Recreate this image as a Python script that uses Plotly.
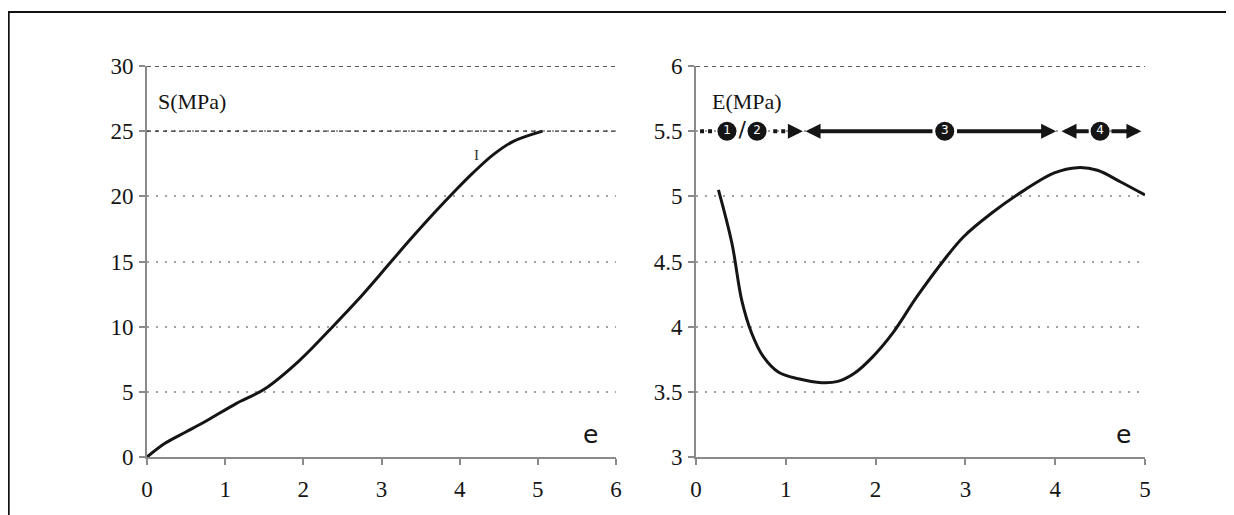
import plotly.graph_objects as go

# ---- data ----
strain_s = [0.0, 0.23, 0.49, 0.74, 1.14, 1.5, 1.95, 2.36, 2.69, 3.01, 3.37,
            3.67, 3.97, 4.17, 4.43, 4.68, 5.06]
stress_s = [0.0, 1.05, 1.9, 2.7, 4.1, 5.2, 7.4, 9.9, 12.0, 14.2, 16.7,
            18.7, 20.6, 21.8, 23.2, 24.2, 25.0]

strain_e = [0.25, 0.40, 0.51, 0.62, 0.75, 0.92, 1.14, 1.40, 1.58, 1.76, 1.97, 2.19, 2.46, 2.76,
            2.98, 3.29, 3.64, 3.99, 4.25, 4.47, 4.73, 5.0]
modulus_e = [5.05, 4.64, 4.2, 3.95, 3.77, 3.65, 3.60, 3.57, 3.58, 3.64, 3.77, 3.95, 4.23, 4.51,
             4.69, 4.87, 5.04, 5.18, 5.22, 5.20, 5.11, 5.01]

left_xticks = [0, 1, 2, 3, 4, 5, 6]
left_yticks = [0, 5, 10, 15, 20, 25, 30]
right_xticks = [0, 1, 2, 3, 4, 5]
right_yticks = [3, 3.5, 4, 4.5, 5, 5.5, 6]
right_ytext = ["3", "3.5", "4", "4.5", "5", "5.5", "6"]

# phase markers along E = 5.5
phase_y = 5.5
phase_nums = ["1", "2", "3", "4"]
phase_num_x = [0.345, 0.68, 2.77, 4.5]
slash_x = 0.515
dotted_segments = [(0.045, 0.18), (0.86, 1.07)]
# arrows: (tail, tip)
phase_arrows = [(1.07, 1.19), (2.65, 1.22), (2.89, 4.01), (4.39, 4.07), (4.61, 4.96)]

W, H = 1234, 515
OFF = 8  # page body margin shifts the figure by this many pixels
INK = "#151515"
AXC = "#8a8a8a"
serif = "Liberation Serif"

fig = go.Figure()

fig.add_trace(go.Scatter(x=strain_s, y=stress_s, mode="lines", xaxis="x", yaxis="y",
                         line=dict(color=INK, width=3, shape="spline", smoothing=0.9),
                         hoverinfo="skip"))
fig.add_trace(go.Scatter(x=strain_e, y=modulus_e, mode="lines", xaxis="x2", yaxis="y2",
                         line=dict(color=INK, width=3, shape="spline"), hoverinfo="skip"))

for a, b in dotted_segments:
    fig.add_trace(go.Scatter(x=[a, b], y=[phase_y, phase_y], mode="lines", xaxis="x2", yaxis="y2",
                             line=dict(color=INK, width=4, dash="4px,4px"), hoverinfo="skip"))

fig.add_trace(go.Scatter(x=phase_num_x, y=[phase_y] * len(phase_num_x), mode="markers+text",
                         text=phase_nums, xaxis="x2", yaxis="y2", cliponaxis=False,
                         marker=dict(symbol="circle", size=19, color=INK),
                         textposition="middle center",
                         textfont=dict(family="DejaVu Sans", size=12, color="white"),
                         hoverinfo="skip"))
fig.add_trace(go.Scatter(x=[slash_x], y=[phase_y], mode="text", text=["/"], xaxis="x2", yaxis="y2",
                         cliponaxis=False, textfont=dict(family="DejaVu Sans", size=22, color=INK),
                         hoverinfo="skip"))


def xdom(p0, p1):
    return [(p0 - OFF) / W, (p1 - OFF) / W]


ydom = [(H - (457 - OFF)) / H, (H - (66 - OFF)) / H]

common_axis = dict(showline=True, linecolor=AXC, linewidth=2, ticks="outside", ticklen=6,
                   tickcolor=AXC, tickwidth=2, zeroline=False, automargin=False,
                   tickfont=dict(family=serif, size=23, color=INK))
grid = dict(showgrid=True, gridcolor="#a2a2a2", griddash="2px,7px", gridwidth=2)

fig.update_layout(
    width=W, height=H, margin=dict(l=0, r=0, t=0, b=0, autoexpand=False),
    paper_bgcolor="white", plot_bgcolor="white", showlegend=False,
    xaxis=dict(domain=xdom(147, 616), range=[0, 6], tickvals=left_xticks, showgrid=False,
               anchor="y", ticklabelstandoff=4, **common_axis),
    yaxis=dict(domain=ydom, range=[0, 30], tickvals=left_yticks, anchor="x",
               ticklabelstandoff=1, **grid, **common_axis),
    xaxis2=dict(domain=xdom(696, 1145), range=[0, 5], tickvals=right_xticks, showgrid=False,
                anchor="y2", ticklabelstandoff=4, **common_axis),
    yaxis2=dict(domain=ydom, range=[3, 6], tickvals=right_yticks, ticktext=right_ytext,
                anchor="x2", ticklabelstandoff=1, **grid, **common_axis),
)

for tail, tip in phase_arrows:
    fig.add_annotation(x=tip, y=phase_y, ax=tail, ay=phase_y, xref="x2", yref="y2",
                       axref="x2", ayref="y2", text="", showarrow=True, arrowhead=2,
                       arrowsize=0.75, arrowwidth=4, arrowcolor=INK, standoff=0, startstandoff=0)

# darker dashed top gridlines
for yv in [25, 30]:
    fig.add_shape(type="line", xref="x domain", yref="y", x0=0, x1=1.0, y0=yv, y1=yv,
                  line=dict(color="#2a2a2a", width=1.4, dash="4px,4px"), layer="above")
fig.add_shape(type="line", xref="x2 domain", yref="y2", x0=0, x1=1.0, y0=6, y1=6,
              line=dict(color="#2a2a2a", width=1.4, dash="4px,4px"), layer="above")

# outer frame
fig.add_shape(type="rect", xref="paper", yref="paper", x0=0.6 / W, x1=1.02, y0=-0.05,
              y1=(H - (12 - OFF)) / H, line=dict(color="#111111", width=2.2))

# texts
fig.add_annotation(x=0.12, y=27.3, xref="x", yref="y", text="S(MPa)", showarrow=False,
                   xanchor="left", font=dict(family=serif, size=22, color=INK))
fig.add_annotation(x=0.16, y=5.73, xref="x2", yref="y2", text="E(MPa)", showarrow=False,
                   xanchor="left", font=dict(family=serif, size=22, color=INK))
fig.add_annotation(x=5.68, y=1.7, xref="x", yref="y", text="e", showarrow=False,
                   font=dict(family="Liberation Sans Narrow, DejaVu Sans", size=25, color=INK))
fig.add_annotation(x=4.76, y=3.17, xref="x2", yref="y2", text="e", showarrow=False,
                   font=dict(family="Liberation Sans Narrow, DejaVu Sans", size=25, color=INK))
fig.add_annotation(x=4.21, y=23.2, xref="x", yref="y", text="I", showarrow=False,
                   font=dict(family=serif, size=15, color="#333"))

fig.write_html("out.html")
